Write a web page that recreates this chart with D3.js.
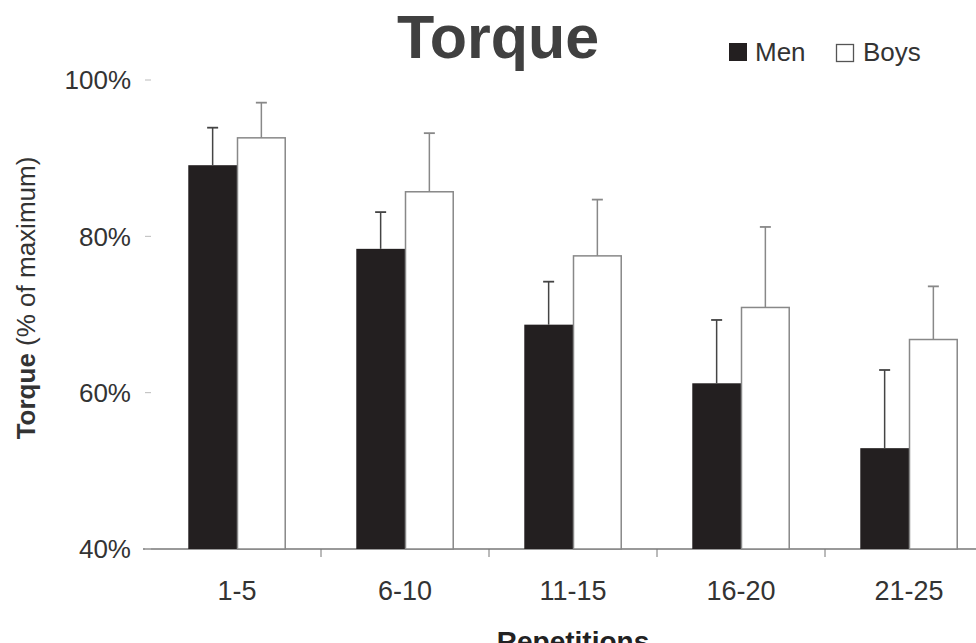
<!DOCTYPE html>
<html><head><meta charset="utf-8">
<script src="https://cdn.jsdelivr.net/npm/d3@7"></script>
<style>body{margin:0;background:#fff}svg{display:block}text{font-family:"Liberation Sans",Arial,sans-serif}</style>
</head><body>
<script>
const categories = ["1-5","6-10","11-15","16-20","21-25"];
const seriesNames = ["Men","Boys"];
const menValues = [89.1, 78.4, 68.7, 61.2, 52.9];
const menErrors = [4.8, 4.7, 5.5, 8.1, 10.0];
const boysValues = [92.6, 85.7, 77.5, 70.9, 66.8];
const boysErrors = [4.5, 7.5, 7.2, 10.3, 6.8];
const yTicks = [40, 60, 80, 100];

const W = 976, H = 643;
const svg = d3.select("body").append("svg").attr("width", W).attr("height", H);

const x0 = d3.scaleBand().domain(categories).range([153, 993]).padding(0);
const x1 = d3.scaleBand().domain(seriesNames).range([x0.bandwidth()*0.21, x0.bandwidth()*0.79]).padding(0);
const y = d3.scaleLinear().domain([40, 100]).range([549, 80]);

const data = categories.map((c, i) => ({
  cat: c,
  items: [
    {s: "Men", v: menValues[i], e: menErrors[i]},
    {s: "Boys", v: boysValues[i], e: boysErrors[i]}
  ]
}));

// x axis line
svg.append("line").attr("x1", 143).attr("x2", W).attr("y1", y(40)).attr("y2", y(40))
  .attr("stroke", "#777").attr("stroke-width", 1.5);
categories.slice(1).forEach(c => {
  svg.append("line").attr("x1", x0(c)).attr("x2", x0(c)).attr("y1", y(40)).attr("y2", y(40) + 8)
    .attr("stroke", "#777").attr("stroke-width", 1);
});

// y ticks
const yAx = svg.append("g");
yTicks.forEach(t => {
  yAx.append("line").attr("x1", 145).attr("x2", 151).attr("y1", y(t)).attr("y2", y(t))
    .attr("stroke", "#bbb").attr("stroke-width", 1);
  yAx.append("text").attr("x", 131).attr("y", y(t)).attr("dy", "0.36em")
    .attr("text-anchor", "end").attr("font-size", 26).attr("fill", "#333").text(t + "%");
});

const g = svg.selectAll("g.grp").data(data).join("g").attr("class", "grp")
  .attr("transform", d => `translate(${x0(d.cat)},0)`);

g.selectAll("rect").data(d => d.items).join("rect")
  .attr("x", d => x1(d.s) + (d.s === "Boys" ? 0.5 : 0))
  .attr("y", d => y(d.v))
  .attr("width", d => x1.bandwidth() - (d.s === "Boys" ? 1 : 0))
  .attr("height", d => y(40) - y(d.v))
  .attr("fill", d => d.s === "Men" ? "#231f20" : "#fff")
  .attr("stroke", d => d.s === "Men" ? "none" : "#888")
  .attr("stroke-width", 1.5);

g.selectAll("g.err").data(d => d.items).join("g").attr("class", "err")
  .each(function(d) {
    const cx = x1(d.s) + x1.bandwidth()/2;
    const col = d.s === "Men" ? "#444" : "#888";
    const sel = d3.select(this);
    sel.append("line").attr("x1", cx).attr("x2", cx).attr("y1", y(d.v)).attr("y2", y(d.v + d.e))
      .attr("stroke", col).attr("stroke-width", 1.5);
    sel.append("line").attr("x1", cx - 5.5).attr("x2", cx + 5.5).attr("y1", y(d.v + d.e)).attr("y2", y(d.v + d.e))
      .attr("stroke", col).attr("stroke-width", 1.8);
  });

// x labels
categories.forEach(c => {
  svg.append("text").attr("x", x0(c) + x0.bandwidth()/2).attr("y", 600)
    .attr("text-anchor", "middle").attr("font-size", 27).attr("fill", "#333").text(c);
});

// title
svg.append("text").attr("x", 498).attr("y", 58).attr("text-anchor", "middle")
  .attr("font-size", 61).attr("font-weight", "bold").attr("fill", "#404040").text("Torque");

// legend
const leg = svg.append("g");
leg.append("rect").attr("x", 729).attr("y", 43).attr("width", 18).attr("height", 18).attr("fill", "#231f20");
leg.append("text").attr("x", 755).attr("y", 61).attr("font-size", 26).attr("fill", "#333").text("Men");
leg.append("rect").attr("x", 836.5).attr("y", 44.5).attr("width", 17).attr("height", 17).attr("fill", "#fff")
  .attr("stroke", "#555").attr("stroke-width", 1.3);
leg.append("text").attr("x", 863).attr("y", 61).attr("font-size", 26).attr("fill", "#333").text("Boys");

// y axis label
const yl = svg.append("text").attr("transform", "translate(35,298) rotate(-90)")
  .attr("text-anchor", "middle").attr("font-size", 26).attr("fill", "#333");
yl.append("tspan").attr("font-weight", "bold").text("Torque");
yl.append("tspan").text("  (% of maximum)");

// x axis title (cut off by the bottom edge, as in the reference)
svg.append("text").attr("x", 573).attr("y", 651).attr("text-anchor", "middle")
  .attr("font-size", 28).attr("font-weight", "bold").attr("fill", "#222").text("Repetitions");
</script>
</body></html>
